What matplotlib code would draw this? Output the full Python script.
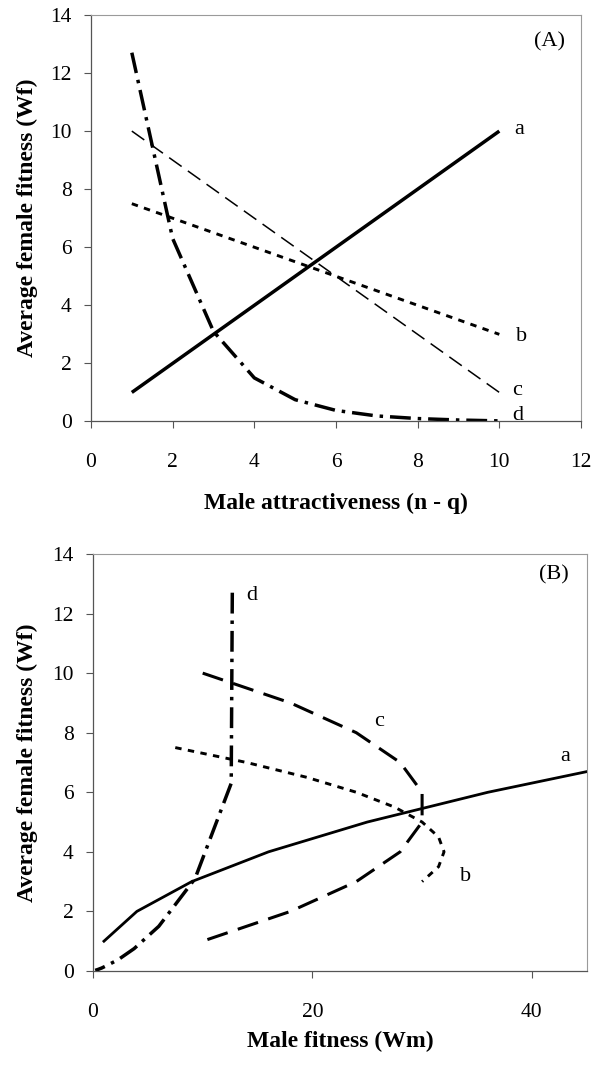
import numpy as np
import matplotlib
matplotlib.use('Agg')
import matplotlib.pyplot as plt

plt.rcParams['font.family'] = ['Liberation Serif', 'DejaVu Serif']

# panel A: female fitness against male attractiveness (n - q)
attract = [1, 2, 3, 4, 5, 6, 7, 8, 9, 10]
wf_a = [1, 2, 3, 4, 5, 6, 7, 8, 9, 10]
wf_b = [7.5, 7.0, 6.5, 6.0, 5.5, 5.0, 4.5, 4.0, 3.5, 3.0]
wf_c = [10, 9, 8, 7, 6, 5, 4, 3, 2, 1]
wf_d = [12.7, 6.3, 3.1, 1.5, 0.75, 0.38, 0.19, 0.1, 0.05, 0.02]

# panel B: female fitness against male fitness
wm_a = [1, 4, 9, 16, 25, 36, 49, 64, 81, 100]
wm_b = [7.5, 14, 19.5, 24, 27.5, 30, 31.5, 32, 31.5, 30]
wm_c = [10, 18, 24, 28, 30, 30, 28, 24, 18, 10]
wm_d = [12.7, 12.6, 9.3, 6.0, 3.75, 2.3, 1.3, 0.8, 0.45, 0.2]

names = ['a', 'b', 'c', 'd']

fig = plt.figure(figsize=(6.03, 10.67), dpi=100)
axA = fig.add_axes([0.1509, 0.605, 0.8126, 0.381])
axB = fig.add_axes([0.1542, 0.09, 0.8187, 0.3908])


def style_axes(ax):
    for side in ['top', 'right']:
        ax.spines[side].set_color('#9a9a9a')
        ax.spines[side].set_linewidth(0.8)
    for side in ['left', 'bottom']:
        ax.spines[side].set_color('#555555')
        ax.spines[side].set_linewidth(0.9)
    ax.tick_params(axis='x', direction='out', length=5, width=0.8,
                   color='#555555', pad=18, labelsize=15.5)
    ax.tick_params(axis='y', direction='out', length=5, width=0.8,
                   color='#555555', pad=9, labelsize=15.5)
    ax.set_ylim(0, 14)
    ax.set_yticks(np.arange(0, 15, 2))


# panel A
axA.plot(attract, wf_a, color='black', lw=2.5, solid_capstyle='butt')
axA.plot(attract, wf_b, color='black', lw=2.1, dashes=(2.2, 2.2))
axA.plot(attract, wf_c, color='black', lw=1.1, dashes=(10, 5))
axA.plot(attract, wf_d, color='black', lw=2.5, dashes=(6, 2, 1, 2))
style_axes(axA)
axA.set_xlim(0, 12)
axA.set_xticks(np.arange(0, 13, 2))
for nm, xx, yy in zip(names, [10.37, 10.42, 10.32, 10.32], [10.04, 2.93, 1.05, 0.22]):
    axA.text(xx, yy, nm, fontsize=16, ha='left', va='center')
axA.text(11.22, 13.07, '(A)', fontsize=16, ha='center', va='center')
axA.set_xlabel('Male attractiveness (n - q)', fontsize=17, fontweight='bold', va='center')
axA.xaxis.set_label_coords(0.5, -0.2005)
axA.set_ylabel('Average female fitness (Wf)', fontsize=17, fontweight='bold', va='center')
axA.yaxis.set_label_coords(-0.1306, 0.5)

# panel B
axB.plot(wm_a, wf_a, color='black', lw=2.0)
axB.plot(wm_b, wf_b, color='black', lw=2.1, dashes=(2.2, 2.2))
axB.plot(wm_c, wf_c, color='black', lw=2.2, dashes=(7, 3.5))
axB.plot(wm_d, wf_d, color='black', lw=2.5, dashes=(6, 2, 1, 2))
style_axes(axB)
axB.set_xlim(0, 45)
axB.set_xticks([0, 20, 40])
for nm, xx, yy in zip(names, [43.0, 34.0, 26.1, 14.5], [7.2, 3.16, 8.36, 12.6]):
    axB.text(xx, yy, nm, fontsize=16, ha='center', va='center')
axB.text(42, 13.3, '(B)', fontsize=16, ha='center', va='center')
axB.set_xlabel('Male fitness (Wm)', fontsize=17, fontweight='bold', va='center')
axB.xaxis.set_label_coords(0.5, -0.1695)
axB.set_ylabel('Average female fitness (Wf)', fontsize=17, fontweight='bold', va='center')
axB.yaxis.set_label_coords(-0.1337, 0.5)

fig.savefig('out.png', dpi=100)
